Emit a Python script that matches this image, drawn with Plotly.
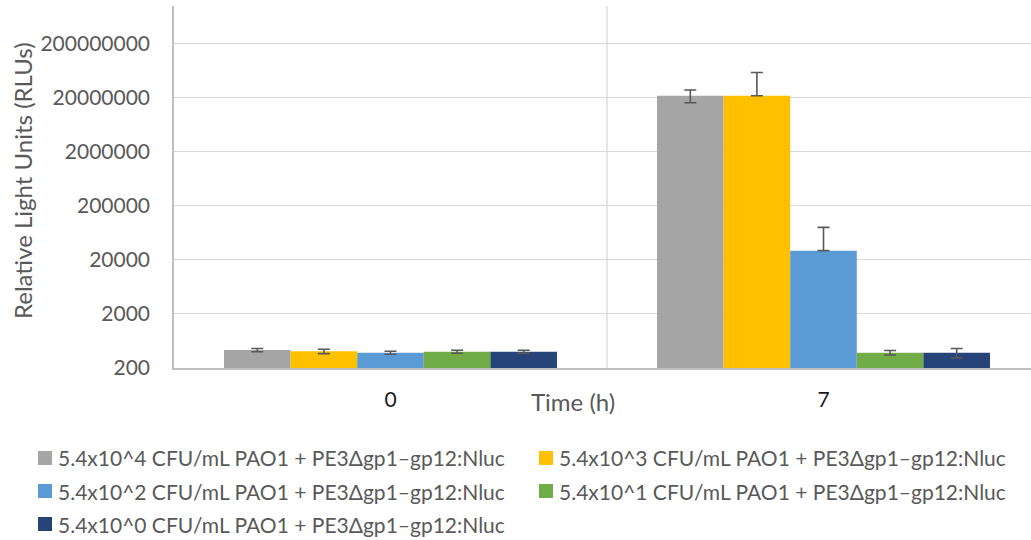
import plotly.graph_objects as go
import math

# ---- data ----
times = ["0", "7"]
series_names = [
    "5.4x10^4 CFU/mL PAO1 + PE3\u0394gp1\u2013gp12:Nluc",
    "5.4x10^3 CFU/mL PAO1 + PE3\u0394gp1\u2013gp12:Nluc",
    "5.4x10^2 CFU/mL PAO1 + PE3\u0394gp1\u2013gp12:Nluc",
    "5.4x10^1 CFU/mL PAO1 + PE3\u0394gp1\u2013gp12:Nluc",
    "5.4x10^0 CFU/mL PAO1 + PE3\u0394gp1\u2013gp12:Nluc",
]
values = [
    [430, 21500000],
    [406, 21500000],
    [384, 29500],
    [400, 384],
    [400, 384],
]
err_plus = [
    [30, 6000000],
    [37, 36500000],
    [25, 50000],
    [26, 38],
    [25, 76],
]
err_minus = [
    [30, 5500000],
    [37, 0],
    [25, 0],
    [26, 36],
    [25, 74],
]
colors = ["#A5A5A5", "#FFC000", "#5B9BD5", "#70AD47", "#264478"]
y_tickvals = [200, 2000, 20000, 200000, 2000000, 20000000, 200000000]
y_ticktext = ["200", "2000", "20000", "200000", "2000000", "20000000", "200000000"]
y_title = "Relative Light Units (RLUs)"
x_title = "Time (h)"

FONT = "Lato, 'Open Sans', sans-serif"
FS = 21
W, H = 1031, 540
L, R, T, B = 174, 0, 6, 172
PW, PH = W - L - R, H - T - B

fig = go.Figure()
for name, v, ep, em, c in zip(series_names, values, err_plus, err_minus, colors):
    fig.add_trace(go.Bar(
        x=times, y=v, name=name, marker=dict(color=c, line=dict(width=0)),
        error_y=dict(type="data", array=ep, arrayminus=em, symmetric=False,
                     color="#595959", thickness=1.6, width=6),
        showlegend=False,
    ))

ymin = math.log10(200)
ytop = ymin + PH / 54.1

fig.update_layout(
    width=W, height=H,
    margin=dict(l=L, r=R, t=T, b=B),
    paper_bgcolor="white", plot_bgcolor="white",
    barmode="group", bargap=0.231, bargroupgap=0,
    font=dict(family=FONT, size=FS, color="#595959"),
    xaxis=dict(
        type="category", range=[-0.5, -0.5 + PW / 433.0],
        showgrid=False, showline=True, linecolor="#BFBFBF", linewidth=1.5,
        ticks="", tickfont=dict(family=FONT, size=FS, color="#1a1a1a"),
        ticklabelstandoff=12, zeroline=False,
    ),
    yaxis=dict(
        type="log", range=[ymin, ytop],
        tickvals=y_tickvals, ticktext=y_ticktext,
        showgrid=True, gridcolor="#D9D9D9", gridwidth=1.3,
        showline=True, linecolor="#BFBFBF", linewidth=1.5,
        ticks="", ticklabelstandoff=18, zeroline=False,
    ),
)

# divider between categories
fig.add_shape(type="line", xref="x", yref="paper", x0=0.5, x1=0.5, y0=0, y1=1,
              line=dict(color="#D9D9D9", width=1.3), layer="below")

def px_x(px):
    return (px - L) / PW

def px_y(py):
    return (H - B - py) / PH

# y-axis title
fig.add_annotation(text=y_title, xref="paper", yref="paper", x=px_x(22), y=px_y(181),
                   showarrow=False, xanchor="center", yanchor="middle", textangle=-90,
                   font=dict(family=FONT, size=24, color="#595959"))

# x-axis title placed between labels
fig.add_annotation(text=x_title, xref="paper", yref="paper", x=px_x(572.5), y=px_y(401),
                   showarrow=False, xanchor="center", yanchor="middle",
                   font=dict(family=FONT, size=24, color="#595959"))

# custom legend (two columns, row-major)
row_y = [458, 491, 524]
col_sw = [38, 539]
for i, (name, c) in enumerate(zip(series_names, colors)):
    r, col = divmod(i, 2)
    cy = row_y[r]
    sx = col_sw[col]
    fig.add_shape(type="rect", xref="paper", yref="paper",
                  x0=px_x(sx), x1=px_x(sx + 14), y0=px_y(cy + 7), y1=px_y(cy - 7),
                  fillcolor=c, line=dict(width=0))
    fig.add_annotation(text=name, xref="paper", yref="paper", x=px_x(sx + 18), y=px_y(cy),
                       showarrow=False, xanchor="left", yanchor="middle",
                       font=dict(family=FONT, size=FS, color="#595959"))

fig.write_html("out.html")
